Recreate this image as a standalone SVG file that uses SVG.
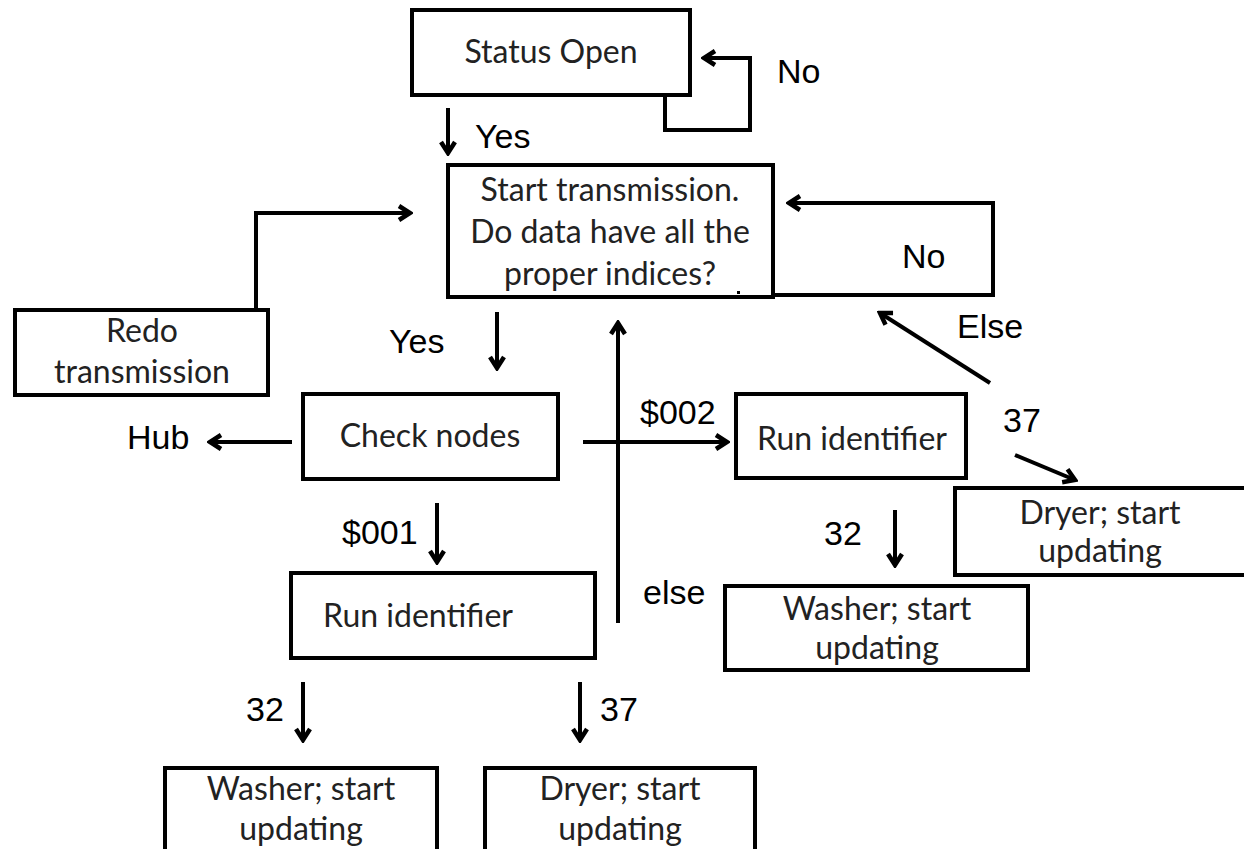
<svg xmlns="http://www.w3.org/2000/svg" width="1244" height="849" viewBox="0 0 1244 849">
<style>
.box{fill:#fff;stroke:#000;stroke-width:4}
.nt{font-family:Lato,"Open Sans",sans-serif;font-size:32px;fill:#222;text-anchor:middle}
.lb{font-family:"Liberation Sans",Arial,sans-serif;font-size:34px;fill:#000}
.c{fill:none;stroke:#000;stroke-width:4;marker-end:url(#ah)}
</style>
<defs>
<marker id="ah" viewBox="0 0 16 18" refX="13" refY="9" markerWidth="16" markerHeight="18" markerUnits="userSpaceOnUse" orient="auto">
<path d="M2,2 L13,9 L2,16" fill="none" stroke="#000" stroke-width="4.5" stroke-linejoin="miter"/>
</marker>
</defs>
<rect width="1244" height="849" fill="#fff"/>
<g id="connectors">
<path class="c" d="M665,95 V130 H750 V58 H704"/>
<path class="c" d="M448,108 V153"/>
<path class="c" d="M256,310 V213 H410"/>
<path class="c" d="M773,295 H993 V203 H789"/>
<path class="c" d="M497,312 V368"/>
<path class="c" d="M618,623 V323"/>
<path class="c" d="M292,442 H210"/>
<path class="c" d="M583,442 H727"/>
<path class="c" d="M437,503 V562"/>
<path class="c" d="M990,383 L880,313"/>
<path class="c" d="M1015,455 L1075,480"/>
<path class="c" d="M895,510 V565"/>
<path class="c" d="M303,682 V740"/>
<path class="c" d="M580,682 V740"/>
<text class="lb" x="777" y="83">No</text>
<text class="lb" x="475" y="148">Yes</text>
<text class="lb" x="902" y="268">No</text>
<text class="lb" x="389" y="353">Yes</text>
<text class="lb" x="957" y="338">Else</text>
<text class="lb" x="127" y="449">Hub</text>
<text class="lb" x="640" y="424">$002</text>
<text class="lb" x="1003" y="432">37</text>
<text class="lb" x="824" y="545">32</text>
<text class="lb" x="342" y="544">$001</text>
<text class="lb" x="643" y="604">else</text>
<text class="lb" x="246" y="721">32</text>
<text class="lb" x="600" y="721">37</text>
</g>
<g id="status-open">
<rect class="box" x="412" y="10" width="278" height="85"/>
<text class="nt" x="551" y="63">Status Open</text>
</g>
<g id="start-transmission">
<rect class="box" x="448" y="165" width="325" height="132"/>
<text class="nt" x="610" y="201">Start transmission.</text>
<text class="nt" x="610" y="243">Do data have all the</text>
<text class="nt" x="610" y="285">proper indices?</text>
<rect x="737" y="291" width="3" height="3" fill="#000"/>
</g>
<g id="redo-transmission">
<rect class="box" x="15" y="310" width="253" height="85"/>
<text class="nt" x="142" y="342">Redo</text>
<text class="nt" x="142" y="383">transmission</text>
</g>
<g id="check-nodes">
<rect class="box" x="303" y="394" width="255" height="85"/>
<text class="nt" x="430" y="447">Check nodes</text>
</g>
<g id="run-identifier-1">
<rect class="box" x="291" y="573" width="304" height="85"/>
<text class="nt" x="418" y="627">Run identifier</text>
</g>
<g id="run-identifier-2">
<rect class="box" x="736" y="394" width="230" height="84"/>
<text class="nt" x="852" y="450">Run identifier</text>
</g>
<g id="dryer-right">
<rect class="box" x="955" y="488" width="295" height="87"/>
<text class="nt" x="1100" y="524">Dryer; start</text>
<text class="nt" x="1100" y="562">updating</text>
</g>
<g id="washer-right">
<rect class="box" x="725" y="586" width="303" height="84"/>
<text class="nt" x="877" y="620">Washer; start</text>
<text class="nt" x="877" y="659">updating</text>
</g>
<g id="washer-bottom">
<rect class="box" x="165" y="768" width="272" height="100"/>
<text class="nt" x="301" y="800">Washer; start</text>
<text class="nt" x="301" y="840">updating</text>
</g>
<g id="dryer-bottom">
<rect class="box" x="485" y="768" width="270" height="100"/>
<text class="nt" x="620" y="800">Dryer; start</text>
<text class="nt" x="620" y="840">updating</text>
</g>
</svg>
